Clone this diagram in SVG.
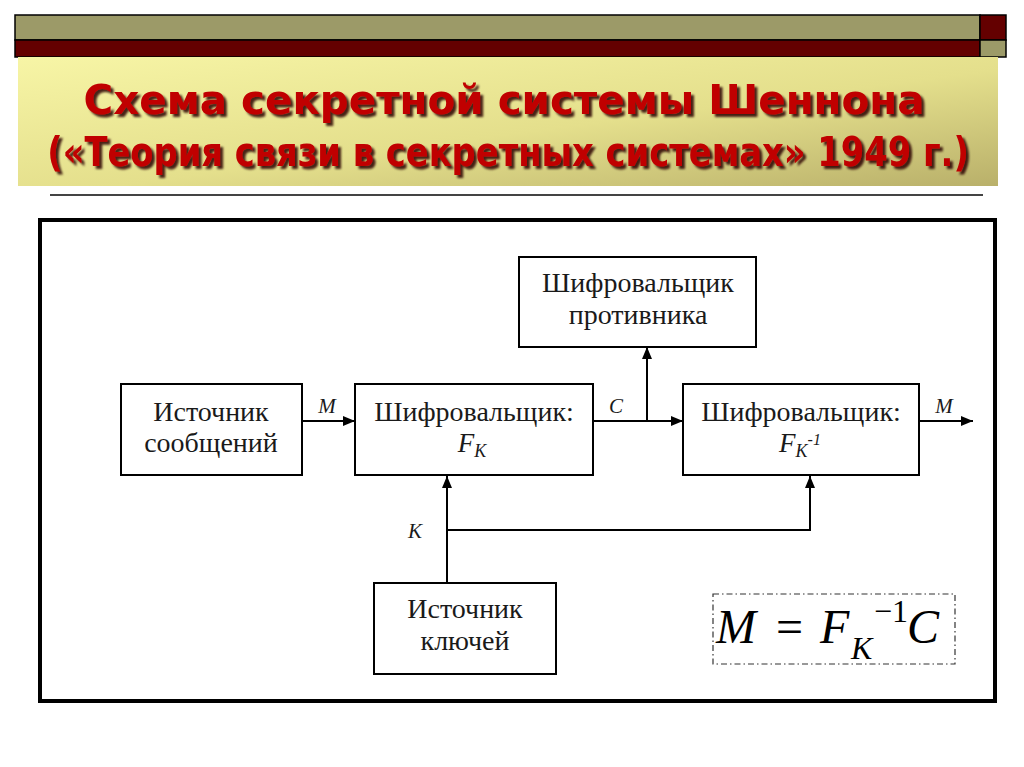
<svg xmlns="http://www.w3.org/2000/svg" width="1024" height="767" viewBox="0 0 1024 767">
<defs>
<linearGradient id="band" x1="0" y1="0" x2="1" y2="1">
<stop offset="0" stop-color="#f7f5a6"/>
<stop offset="0.55" stop-color="#e4df8c"/>
<stop offset="1" stop-color="#b9b06a"/>
</linearGradient>
<filter id="sh" x="-10%" y="-40%" width="120%" height="180%">
<feGaussianBlur in="SourceAlpha" stdDeviation="1"/>
<feOffset dx="2.5" dy="3" result="o"/>
<feFlood flood-color="#2a0000" flood-opacity="0.85"/>
<feComposite in2="o" operator="in"/>
<feMerge><feMergeNode/><feMergeNode in="SourceGraphic"/></feMerge>
</filter>
<marker id="arr" viewBox="0 0 12 10" refX="12" refY="5" markerWidth="12" markerHeight="10" markerUnits="userSpaceOnUse" orient="auto">
<path d="M0,0 L12,5 L0,10 Z" fill="#000"/>
</marker>
</defs>
<style>
.box{fill:#fff;stroke:#000;stroke-width:2}
.lbl{font-family:"Liberation Serif","Times New Roman",serif;font-size:28px;fill:#1a1a1a;text-anchor:middle}
.it{font-family:"Liberation Serif","Times New Roman",serif;font-style:italic;fill:#1a1a1a}
.con{fill:none;stroke:#000;stroke-width:2}
.title{font-family:"DejaVu Sans",Verdana,sans-serif;font-weight:bold;fill:#c00000;text-anchor:middle}
</style>
<rect width="1024" height="767" fill="#fff"/>
<!-- header bars -->
<rect x="15" y="15" width="965" height="25" fill="#9c9a68" stroke="#000" stroke-width="1.5"/>
<rect x="15" y="40" width="965" height="17" fill="#640000" stroke="#000" stroke-width="1.5"/>
<rect x="980" y="15" width="26" height="25" fill="#640000" stroke="#000" stroke-width="1.5"/>
<rect x="980" y="40" width="26" height="17" fill="#9c9a68" stroke="#000" stroke-width="1.5"/>
<rect x="18" y="57" width="980" height="129" fill="url(#band)"/>
<g id="title" filter="url(#sh)">
<text class="title" transform="translate(504,114) scale(0.8,1)" x="0" y="0" font-size="41" textLength="1051" lengthAdjust="spacingAndGlyphs">Схема секретной системы Шеннона</text>
<text class="title" transform="translate(508,166) scale(0.8,1)" x="0" y="0" font-size="40" textLength="1152" lengthAdjust="spacingAndGlyphs">(«Теория связи в секретных системах» 1949 г.)</text>
</g>
<line x1="50" y1="195" x2="983" y2="195" stroke="#444" stroke-width="2"/>
<!-- frame -->
<rect x="40" y="220" width="955" height="481" fill="#fff" stroke="#000" stroke-width="4"/>
<!-- connectors -->
<g id="connectors">
<line class="con" x1="302" y1="421" x2="355" y2="421" marker-end="url(#arr)"/>
<line class="con" x1="593" y1="421" x2="683" y2="421" marker-end="url(#arr)"/>
<line class="con" x1="647" y1="421" x2="647" y2="347" marker-end="url(#arr)"/>
<line class="con" x1="919" y1="421" x2="973" y2="421" marker-end="url(#arr)"/>
<line class="con" x1="447" y1="583" x2="447" y2="476" marker-end="url(#arr)"/>
<polyline class="con" points="447,530 810,530 810,476" marker-end="url(#arr)"/>
<text class="it" x="327" y="413" font-size="21" text-anchor="middle">M</text>
<text class="it" x="616" y="413" font-size="21" text-anchor="middle">C</text>
<text class="it" x="944" y="413" font-size="21" text-anchor="middle">M</text>
<text class="it" x="415" y="538" font-size="21" text-anchor="middle">K</text>
</g>
<g id="source">
<rect class="box" x="121" y="384" width="181" height="91"/>
<text class="lbl" x="211" y="421">Источник</text>
<text class="lbl" x="211" y="452">сообщений</text>
</g>
<g id="encryptor">
<rect class="box" x="355" y="384" width="238" height="91"/>
<text class="lbl" x="474" y="421">Шифровальщик:</text>
<text class="it" x="472" y="452" font-size="27" text-anchor="middle">F<tspan font-size="18" dy="5">K</tspan></text>
</g>
<g id="decryptor">
<rect class="box" x="683" y="384" width="236" height="91"/>
<text class="lbl" x="801" y="421">Шифровальщик:</text>
<text class="it" x="800" y="452" font-size="27" text-anchor="middle">F<tspan font-size="18" dy="5">K</tspan><tspan font-size="16" dy="-12">-1</tspan></text>
</g>
<g id="enemy">
<rect class="box" x="519" y="257" width="237" height="90"/>
<text class="lbl" x="638" y="292">Шифровальщик</text>
<text class="lbl" x="638" y="324">противника</text>
</g>
<g id="keysource">
<rect class="box" x="374" y="583" width="182" height="91"/>
<text class="lbl" x="465" y="618">Источник</text>
<text class="lbl" x="465" y="650">ключей</text>
</g>
<g id="formula">
<rect x="713" y="594" width="242" height="70" fill="none" stroke="#333" stroke-width="1.2" stroke-dasharray="6,3,1.5,3"/>
<text x="716" y="643" font-size="48" font-family="Liberation Serif,serif" fill="#000"><tspan font-style="italic">M</tspan><tspan x="776">=</tspan><tspan x="820" font-style="italic">F</tspan><tspan x="851" y="659" font-size="32" font-style="italic">K</tspan><tspan x="874" y="622" font-size="32">−1</tspan><tspan x="907" y="643" font-style="italic">C</tspan></text>
</g>
</svg>
